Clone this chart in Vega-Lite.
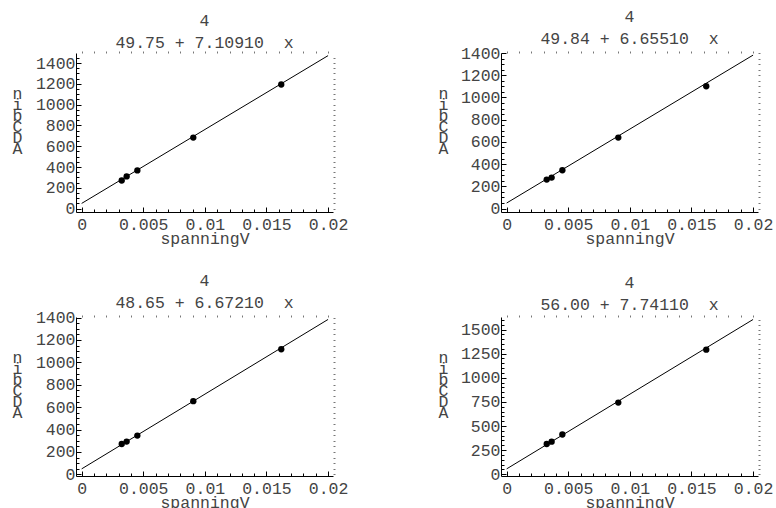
{
"$schema": "https://vega.github.io/schema/vega-lite/v6.json",
"padding": {"left": 12, "top": 8, "right": 0, "bottom": 0},
"background": "white",
"datasets": {
 "fit": [
  {"p":1,"x":0,"y":49.75},{"p":1,"x":0.02,"y":1471.6},
  {"p":2,"x":0,"y":49.84},{"p":2,"x":0.02,"y":1380.9},
  {"p":3,"x":0,"y":48.65},{"p":3,"x":0.02,"y":1383.1},
  {"p":4,"x":0,"y":56.0},{"p":4,"x":0.02,"y":1604.2}
 ],
 "pts": [
  {"p":1,"x":0.00325,"y":270},{"p":1,"x":0.00365,"y":309},{"p":1,"x":0.00452,"y":367},{"p":1,"x":0.00906,"y":683},{"p":1,"x":0.0162,"y":1194},
  {"p":2,"x":0.00325,"y":261},{"p":2,"x":0.00365,"y":279},{"p":2,"x":0.00452,"y":345},{"p":2,"x":0.00906,"y":639},{"p":2,"x":0.0162,"y":1101},
  {"p":3,"x":0.00325,"y":271},{"p":3,"x":0.00365,"y":292},{"p":3,"x":0.00452,"y":346},{"p":3,"x":0.00906,"y":653},{"p":3,"x":0.0162,"y":1117},
  {"p":4,"x":0.00325,"y":314},{"p":4,"x":0.00365,"y":338},{"p":4,"x":0.00452,"y":412},{"p":4,"x":0.00906,"y":743},{"p":4,"x":0.0162,"y":1291}
 ]
},
"columns": 2,
"spacing": {"row": 105, "column": 168},
"bounds": "flush",
"concat": [
 {
  "width": 257, "height": 159,
  "title": {"text": ["\u00a0\u00a0\u00a0\u00a0\u00a0\u00a0\u00a0\u00a0\u00a0\u00a0\u00a0\u00a0\u00a0\u00a0\u00a04\u00a0\u00a0", "49.75\u00a0+\u00a07.10910\u00a0\u00a0x"]},
  "layer": [
   {"data": {"name": "fit"}, "transform": [{"filter": "datum.p == 1"}],
    "mark": {"type": "line", "color": "black", "strokeWidth": 1},
    "encoding": {
     "x": {"field": "x", "type": "quantitative", "scale": {"domain": [-0.00046, 0.0204], "nice": false, "zero": false},
      "axis": {"orient": "bottom", "title": "spanningV", "titleY": 26, "titleBaseline": "middle",
       "values": [0,0.001,0.002,0.003,0.004,0.005,0.006,0.007,0.008,0.009,0.01,0.011,0.012,0.013,0.014,0.015,0.016,0.017,0.018,0.019,0.02],
       "labelExpr": "abs(datum.value*200-round(datum.value*200))<1e-6 ? format(datum.value,'~g') : ''",
       "labelPadding": 9,
       "tickSize": {"condition": {"test": "abs(datum.value*200-round(datum.value*200))<1e-6", "value": -5}, "value": -3}}},
     "y": {"field": "y", "type": "quantitative", "scale": {"domain": [-33, 1497], "nice": false, "zero": false},
      "axis": {"orient": "left", "title": ["n","i","b","C","D","A"], "titleAngle": 0, "titleLineHeight": 11, "titleX": -59, "titleY": 40, "titleAlign": "center", "titleBaseline": "middle",
       "values": [0,50,100,150,200,250,300,350,400,450,500,550,600,650,700,750,800,850,900,950,1000,1050,1100,1150,1200,1250,1300,1350,1400,1450],
       "labelExpr": "datum.value % 200 === 0 ? format(datum.value,'d') : ''",
       "labelPadding": 6,
       "tickSize": {"condition": {"test": "datum.value % 200 === 0", "value": -5}, "value": -3}}}
    }},
   {"data": {"name": "pts"}, "transform": [{"filter": "datum.p == 1"}],
    "mark": {"type": "circle", "size": 40, "color": "black", "opacity": 1},
    "encoding": {
     "x": {"field": "x", "type": "quantitative", "scale": {"domain": [-0.00046, 0.0204], "nice": false, "zero": false},
      "axis": {"orient": "top", "title": null, "labels": false, "domain": false, "tickColor": "#777", "tickSize": 2,
       "values": [0,0.001,0.002,0.003,0.004,0.005,0.006,0.007,0.008,0.009,0.01,0.011,0.012,0.013,0.014,0.015,0.016,0.017,0.018,0.019,0.02]}},
     "y": {"field": "y", "type": "quantitative", "scale": {"domain": [-33, 1497], "nice": false, "zero": false},
      "axis": {"orient": "right", "title": null, "labels": false, "domain": false, "tickColor": "#777", "tickSize": 2,
       "values": [0,50,100,150,200,250,300,350,400,450,500,550,600,650,700,750,800,850,900,950,1000,1050,1100,1150,1200,1250,1300,1350,1400,1450]}}
    }}
  ],
  "resolve": {"axis": {"x": "independent", "y": "independent"}}
 },
 {
  "width": 257, "height": 159,
  "title": {"text": ["\u00a0\u00a0\u00a0\u00a0\u00a0\u00a0\u00a0\u00a0\u00a0\u00a0\u00a0\u00a0\u00a0\u00a0\u00a04\u00a0\u00a0", "49.84\u00a0+\u00a06.65510\u00a0\u00a0x"]},
  "layer": [
   {"data": {"name": "fit"}, "transform": [{"filter": "datum.p == 2"}],
    "mark": {"type": "line", "color": "black", "strokeWidth": 1},
    "encoding": {
     "x": {"field": "x", "type": "quantitative", "scale": {"domain": [-0.00046, 0.0204], "nice": false, "zero": false},
      "axis": {"orient": "bottom", "title": "spanningV", "titleY": 26, "titleBaseline": "middle",
       "values": [0,0.001,0.002,0.003,0.004,0.005,0.006,0.007,0.008,0.009,0.01,0.011,0.012,0.013,0.014,0.015,0.016,0.017,0.018,0.019,0.02],
       "labelExpr": "abs(datum.value*200-round(datum.value*200))<1e-6 ? format(datum.value,'~g') : ''",
       "labelPadding": 9,
       "tickSize": {"condition": {"test": "abs(datum.value*200-round(datum.value*200))<1e-6", "value": -5}, "value": -3}}},
     "y": {"field": "y", "type": "quantitative", "scale": {"domain": [-31, 1400], "nice": false, "zero": false},
      "axis": {"orient": "left", "title": ["n","i","b","C","D","A"], "titleAngle": 0, "titleLineHeight": 11, "titleX": -58, "titleY": 40, "titleAlign": "center", "titleBaseline": "middle",
       "values": [0,50,100,150,200,250,300,350,400,450,500,550,600,650,700,750,800,850,900,950,1000,1050,1100,1150,1200,1250,1300,1350,1400],
       "labelExpr": "datum.value % 200 === 0 ? format(datum.value,'d') : ''",
       "labelPadding": 6,
       "tickSize": {"condition": {"test": "datum.value % 200 === 0", "value": -5}, "value": -3}}}
    }},
   {"data": {"name": "pts"}, "transform": [{"filter": "datum.p == 2"}],
    "mark": {"type": "circle", "size": 40, "color": "black", "opacity": 1},
    "encoding": {
     "x": {"field": "x", "type": "quantitative", "scale": {"domain": [-0.00046, 0.0204], "nice": false, "zero": false},
      "axis": {"orient": "top", "title": null, "labels": false, "domain": false, "tickColor": "#777", "tickSize": 2,
       "values": [0,0.001,0.002,0.003,0.004,0.005,0.006,0.007,0.008,0.009,0.01,0.011,0.012,0.013,0.014,0.015,0.016,0.017,0.018,0.019,0.02]}},
     "y": {"field": "y", "type": "quantitative", "scale": {"domain": [-31, 1400], "nice": false, "zero": false},
      "axis": {"orient": "right", "title": null, "labels": false, "domain": false, "tickColor": "#777", "tickSize": 2,
       "values": [0,50,100,150,200,250,300,350,400,450,500,550,600,650,700,750,800,850,900,950,1000,1050,1100,1150,1200,1250,1300,1350,1400]}}
    }}
  ],
  "resolve": {"axis": {"x": "independent", "y": "independent"}}
 },
 {
  "width": 257, "height": 159,
  "title": {"text": ["\u00a0\u00a0\u00a0\u00a0\u00a0\u00a0\u00a0\u00a0\u00a0\u00a0\u00a0\u00a0\u00a0\u00a0\u00a04\u00a0\u00a0", "48.65\u00a0+\u00a06.67210\u00a0\u00a0x"]},
  "layer": [
   {"data": {"name": "fit"}, "transform": [{"filter": "datum.p == 3"}],
    "mark": {"type": "line", "color": "black", "strokeWidth": 1},
    "encoding": {
     "x": {"field": "x", "type": "quantitative", "scale": {"domain": [-0.00046, 0.0204], "nice": false, "zero": false},
      "axis": {"orient": "bottom", "title": "spanningV", "titleY": 26, "titleBaseline": "middle",
       "values": [0,0.001,0.002,0.003,0.004,0.005,0.006,0.007,0.008,0.009,0.01,0.011,0.012,0.013,0.014,0.015,0.016,0.017,0.018,0.019,0.02],
       "labelExpr": "abs(datum.value*200-round(datum.value*200))<1e-6 ? format(datum.value,'~g') : ''",
       "labelPadding": 9,
       "tickSize": {"condition": {"test": "abs(datum.value*200-round(datum.value*200))<1e-6", "value": -5}, "value": -3}}},
     "y": {"field": "y", "type": "quantitative", "scale": {"domain": [-15, 1405], "nice": false, "zero": false},
      "axis": {"orient": "left", "title": ["n","i","b","C","D","A"], "titleAngle": 0, "titleLineHeight": 11, "titleX": -59, "titleY": 40, "titleAlign": "center", "titleBaseline": "middle",
       "values": [0,50,100,150,200,250,300,350,400,450,500,550,600,650,700,750,800,850,900,950,1000,1050,1100,1150,1200,1250,1300,1350,1400],
       "labelExpr": "datum.value % 200 === 0 ? format(datum.value,'d') : ''",
       "labelPadding": 6,
       "tickSize": {"condition": {"test": "datum.value % 200 === 0", "value": -5}, "value": -3}}}
    }},
   {"data": {"name": "pts"}, "transform": [{"filter": "datum.p == 3"}],
    "mark": {"type": "circle", "size": 40, "color": "black", "opacity": 1},
    "encoding": {
     "x": {"field": "x", "type": "quantitative", "scale": {"domain": [-0.00046, 0.0204], "nice": false, "zero": false},
      "axis": {"orient": "top", "title": null, "labels": false, "domain": false, "tickColor": "#777", "tickSize": 2,
       "values": [0,0.001,0.002,0.003,0.004,0.005,0.006,0.007,0.008,0.009,0.01,0.011,0.012,0.013,0.014,0.015,0.016,0.017,0.018,0.019,0.02]}},
     "y": {"field": "y", "type": "quantitative", "scale": {"domain": [-15, 1405], "nice": false, "zero": false},
      "axis": {"orient": "right", "title": null, "labels": false, "domain": false, "tickColor": "#777", "tickSize": 2,
       "values": [0,50,100,150,200,250,300,350,400,450,500,550,600,650,700,750,800,850,900,950,1000,1050,1100,1150,1200,1250,1300,1350,1400]}}
    }}
  ],
  "resolve": {"axis": {"x": "independent", "y": "independent"}}
 },
 {
  "width": 257, "height": 159,
  "title": {"text": ["\u00a0\u00a0\u00a0\u00a0\u00a0\u00a0\u00a0\u00a0\u00a0\u00a0\u00a0\u00a0\u00a0\u00a0\u00a04\u00a0\u00a0", "56.00\u00a0+\u00a07.74110\u00a0\u00a0x"]},
  "layer": [
   {"data": {"name": "fit"}, "transform": [{"filter": "datum.p == 4"}],
    "mark": {"type": "line", "color": "black", "strokeWidth": 1},
    "encoding": {
     "x": {"field": "x", "type": "quantitative", "scale": {"domain": [-0.00046, 0.0204], "nice": false, "zero": false},
      "axis": {"orient": "bottom", "title": "spanningV", "titleY": 26, "titleBaseline": "middle",
       "values": [0,0.001,0.002,0.003,0.004,0.005,0.006,0.007,0.008,0.009,0.01,0.011,0.012,0.013,0.014,0.015,0.016,0.017,0.018,0.019,0.02],
       "labelExpr": "abs(datum.value*200-round(datum.value*200))<1e-6 ? format(datum.value,'~g') : ''",
       "labelPadding": 9,
       "tickSize": {"condition": {"test": "abs(datum.value*200-round(datum.value*200))<1e-6", "value": -5}, "value": -3}}},
     "y": {"field": "y", "type": "quantitative", "scale": {"domain": [-18, 1630], "nice": false, "zero": false},
      "axis": {"orient": "left", "title": ["n","i","b","C","D","A"], "titleAngle": 0, "titleLineHeight": 11, "titleX": -58, "titleY": 40, "titleAlign": "center", "titleBaseline": "middle",
       "values": [0,50,100,150,200,250,300,350,400,450,500,550,600,650,700,750,800,850,900,950,1000,1050,1100,1150,1200,1250,1300,1350,1400,1450,1500,1550,1600],
       "labelExpr": "datum.value % 250 === 0 ? format(datum.value,'d') : ''",
       "labelPadding": 6,
       "tickSize": {"condition": {"test": "datum.value % 250 === 0", "value": -5}, "value": -3}}}
    }},
   {"data": {"name": "pts"}, "transform": [{"filter": "datum.p == 4"}],
    "mark": {"type": "circle", "size": 40, "color": "black", "opacity": 1},
    "encoding": {
     "x": {"field": "x", "type": "quantitative", "scale": {"domain": [-0.00046, 0.0204], "nice": false, "zero": false},
      "axis": {"orient": "top", "title": null, "labels": false, "domain": false, "tickColor": "#777", "tickSize": 2,
       "values": [0,0.001,0.002,0.003,0.004,0.005,0.006,0.007,0.008,0.009,0.01,0.011,0.012,0.013,0.014,0.015,0.016,0.017,0.018,0.019,0.02]}},
     "y": {"field": "y", "type": "quantitative", "scale": {"domain": [-18, 1630], "nice": false, "zero": false},
      "axis": {"orient": "right", "title": null, "labels": false, "domain": false, "tickColor": "#777", "tickSize": 2,
       "values": [0,50,100,150,200,250,300,350,400,450,500,550,600,650,700,750,800,850,900,950,1000,1050,1100,1150,1200,1250,1300,1350,1400,1450,1500,1550,1600]}}
    }}
  ],
  "resolve": {"axis": {"x": "independent", "y": "independent"}}
 }
],
"config": {
 "view": {"stroke": null},
 "title": {"frame": "group", "anchor": "middle", "font": "Liberation Mono", "fontSize": 16.5, "fontWeight": "normal", "color": "#444", "lineHeight": 22, "offset": -2},
 "axis": {"grid": false, "labelFont": "Liberation Mono", "labelFontSize": 16.5, "labelColor": "#444", "labelFlush": false, "labelOverlap": false,
  "titleFont": "Liberation Mono", "titleFontSize": 16.5, "titleFontWeight": "normal", "titleColor": "#444",
  "domainColor": "black", "domainWidth": 1, "tickColor": "black", "tickWidth": 1}
}
}
